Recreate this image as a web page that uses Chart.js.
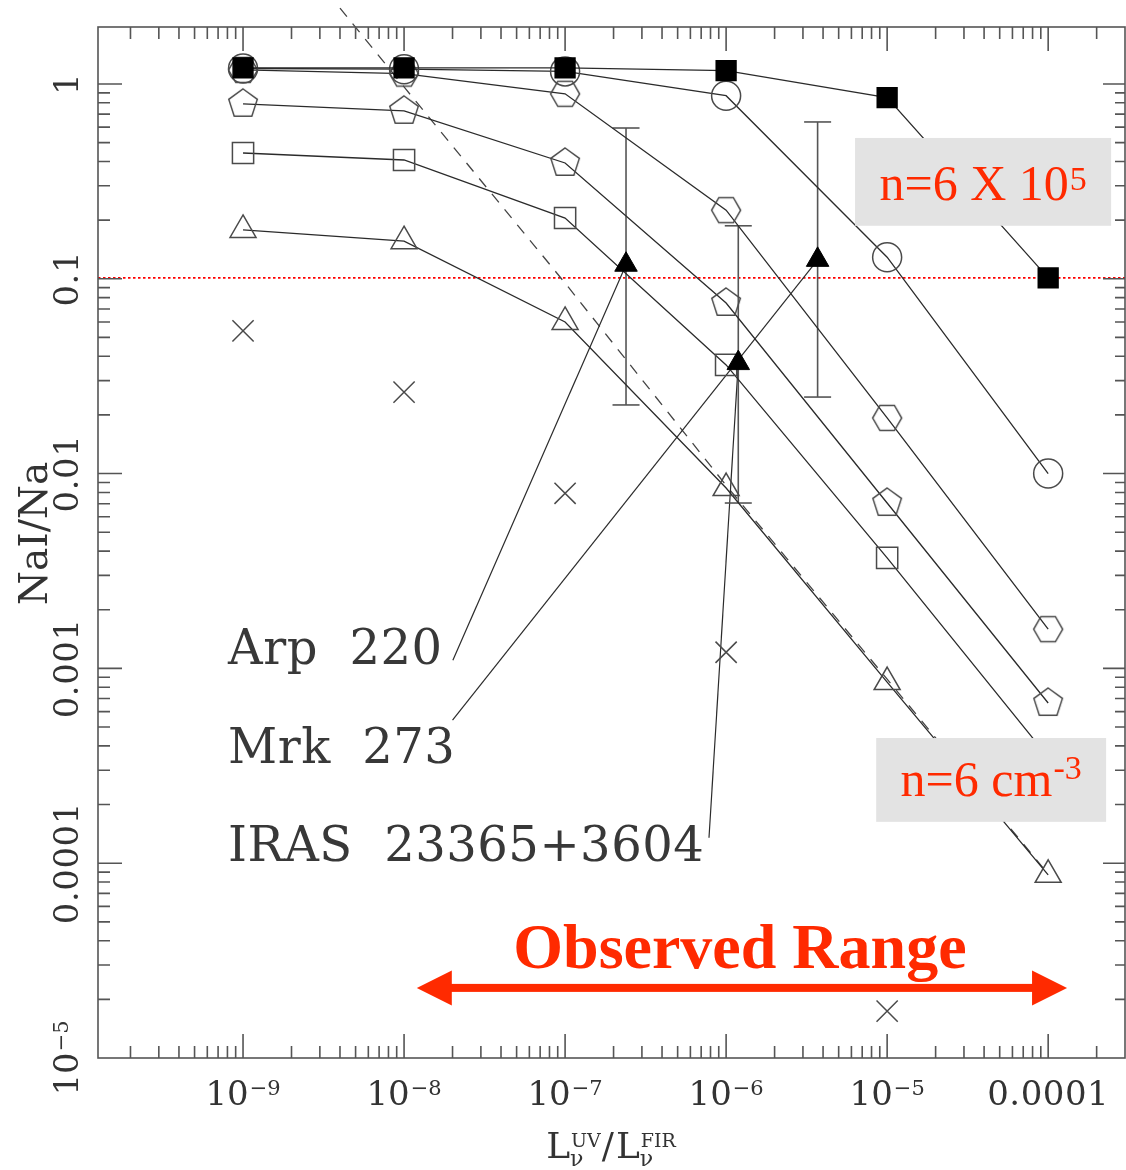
<!DOCTYPE html>
<html>
<head>
<meta charset="utf-8">
<script src="https://cdn.jsdelivr.net/npm/chart.js@4.4.1/dist/chart.umd.min.js"></script>
<style>
  html, body { margin: 0; padding: 0; background: #fff; overflow: hidden; }
  #wrap { width: 1126px; height: 1170px; position: relative; }
  #chart { display: block; }
</style>
</head>
<body>
<div id="wrap"><canvas id="chart"></canvas></div>
<script>
// model grid: L_UV / L_FIR
const X_VALUES = [1e-9, 1e-8, 1e-7, 1e-6, 1e-5, 1e-4];
// NaI/Na for each model curve
const FILLED_SQ = [1.21, 1.21, 1.21, 1.17, 0.85, 0.101];
const CIRCLE    = [1.20, 1.19, 1.16, 0.87, 0.129, 0.0100];
const HEXAGON   = [1.18, 1.13, 0.89, 0.225, 0.0193, 0.00159];
const PENTAGON  = [0.79, 0.727, 0.393, 0.0751, 0.00706, 0.000664];
const OPEN_SQ   = [0.442, 0.407, 0.205, 0.0361, 0.00369, 0.00035];
const TRIANGLE  = [0.178, 0.156, 0.060, 0.00843, 0.00085, 0.0000871];
const CROSS     = [0.054, 0.0262, 0.00792, 0.00121, 0.0000174, null];

// dashed curve
const DASH_X = [4.0e-9, 1e-8, 1e-7, 1e-6, 1e-5, 1e-4];
const DASH_Y = [2.45, 0.965, 0.095, 0.0087, 0.00088, 0.000088];

// observed galaxies (filled triangles with error bars)
const OBS_NAMES = ['Arp  220', 'Mrk  273', 'IRAS  23365+3604'];
const OBS_X  = [2.39e-7, 1.19e-6, 3.7e-6];
const OBS_Y  = [0.118, 0.0369, 0.125];
const OBS_LO = [0.0225, 0.00706, 0.0247];
const OBS_HI = [0.594, 0.187, 0.638];

// leader lines from each name to a triangle
const LEADER_X  = [2.01e-8, 2.0e-8, 7.83e-7];
const LEADER_Y  = [0.0011, 0.000543, 0.000135];
const LEADER_TO = [0, 2, 1];

const THRESHOLD = 0.101;

const X_TICKS = [1e-9, 1e-8, 1e-7, 1e-6, 1e-5, 1e-4];
const X_TICK_LABELS = [['10', '\u22129'], ['10', '\u22128'], ['10', '\u22127'], ['10', '\u22126'], ['10', '\u22125'], ['0.0001', '']];
const Y_TICKS = [1, 0.1, 0.01, 0.001, 0.0001, 1e-5];
const Y_TICK_LABELS = [['1', ''], ['0.1', ''], ['0.01', ''], ['0.001', ''], ['0.0001', ''], ['10', '\u22125']];

const X_MIN = 1.257e-10, X_MAX = 3.0e-4;
const Y_MIN = 1e-5, Y_MAX = 1.96;

// annotation anchors, in data units
const NAME_X = 8.07e-10;
const NAME_BASE_Y = [1.05e-3, 3.27e-4, 1.03e-4];
const BOX_HI = { x0: 6.32e-6, x1: 2.46e-4, y0: 0.528, y1: 0.187 };
const BOX_LO = { x0: 8.55e-6, x1: 2.29e-4, y0: 4.39e-4, y1: 1.63e-4 };
const RANGE = { x0: 1.2e-8, x1: 1.31e-4, y: 2.29e-5 };

const LINE = '#2b2b2b';
const MARK = '#4a4a4a';
const FRAME = '#555';
const TEXT = '#333';
const RED = '#ff2a00';
const SERIF = '"DejaVu Serif", serif';
const TIMES = '"Liberation Serif", "Times New Roman", serif';

function polyMarker(sides, r, rot) {
  const s = Math.ceil(2 * r + 6) + (Math.ceil(2 * r + 6) % 2);
  const c = document.createElement('canvas');
  c.width = c.height = s;
  const g = c.getContext('2d');
  g.strokeStyle = MARK;
  g.lineWidth = 1.5;
  g.beginPath();
  for (let i = 0; i < sides; i++) {
    const a = rot + i * 2 * Math.PI / sides;
    const px = s / 2 + r * Math.cos(a), py = s / 2 + r * Math.sin(a);
    if (i) g.lineTo(px, py); else g.moveTo(px, py);
  }
  g.closePath();
  g.stroke();
  return c;
}
const HEX_IMG = polyMarker(6, 14.5, 0);
const PENT_IMG = polyMarker(5, 15, -Math.PI / 2);

const xy = ys => X_VALUES.map((x, i) => ({ x, y: ys[i] }));

function model(label, ys, style, r, fill) {
  return {
    label, data: xy(ys), showLine: true,
    borderColor: LINE, borderWidth: 1.3,
    pointStyle: style, pointRadius: r,
    pointBorderColor: fill ? '#000' : MARK, pointBorderWidth: 1.5,
    pointBackgroundColor: fill || 'rgba(0,0,0,0)'
  };
}

const datasets = [
  {
    label: 'observed', data: OBS_X.map((x, i) => ({ x, y: OBS_Y[i] })), showLine: false,
    pointStyle: 'triangle', pointRadius: 13, pointBackgroundColor: '#000', pointBorderColor: '#000', pointBorderWidth: 1
  },
  model('filled square', FILLED_SQ, 'rect', 14, '#000'),
  model('circle', CIRCLE, 'circle', 14.5),
  model('hexagon', HEXAGON, HEX_IMG, 15),
  model('pentagon', PENTAGON, PENT_IMG, 15),
  model('square', OPEN_SQ, 'rect', 15),
  model('triangle', TRIANGLE, 'triangle', 15),
  {
    label: 'cross', data: xy(CROSS), showLine: false,
    pointStyle: 'crossRot', pointRadius: 15, pointBorderColor: MARK, pointBorderWidth: 1.5
  },
  ...OBS_X.map((x, i) => ({
    label: 'err ' + i, data: [{ x, y: OBS_LO[i] }, { x, y: OBS_HI[i] }], showLine: true,
    borderColor: '#555', borderWidth: 1.6,
    pointStyle: 'line', pointRadius: 13.5, pointBorderColor: '#555', pointBorderWidth: 1.6
  })),
  ...LEADER_X.map((x, i) => ({
    label: 'leader ' + i,
    data: [{ x, y: LEADER_Y[i] }, { x: OBS_X[LEADER_TO[i]], y: OBS_Y[LEADER_TO[i]] }],
    showLine: true, borderColor: LINE, borderWidth: 1.2, pointRadius: 0
  })),
  {
    label: 'dashed', data: DASH_X.map((x, i) => ({ x, y: DASH_Y[i] })), showLine: true,
    borderColor: '#444', borderWidth: 1.3, borderDash: [11, 9], pointRadius: 0, clip: false
  },
  {
    label: 'threshold', data: [{ x: X_MIN, y: THRESHOLD }, { x: X_MAX, y: THRESHOLD }], showLine: true,
    borderColor: '#f00', borderWidth: 1.8, borderDash: [2.5, 2.5], pointRadius: 0
  }
];

function supText(ctx, main, sup, cx, base, mainFont, supFont, rise) {
  ctx.font = mainFont;
  const w1 = ctx.measureText(main).width;
  ctx.font = supFont;
  const w2 = sup ? ctx.measureText(sup).width + 1 : 0;
  const x = cx - (w1 + w2) / 2;
  ctx.textAlign = 'left';
  ctx.textBaseline = 'alphabetic';
  ctx.font = mainFont;
  ctx.fillText(main, x, base);
  if (sup) {
    ctx.font = supFont;
    ctx.fillText(sup, x + w1 + 1, base - rise);
  }
}

function minorList(eFrom, eTo, min, max) {
  const out = [];
  for (let e = eFrom; e <= eTo; e++) {
    for (let k = 1; k <= 9; k++) {
      const v = k * Math.pow(10, e);
      if (v > min * 1.001 && v < max * 0.999) out.push({ v, major: k === 1 });
    }
  }
  return out;
}

const figurePlugin = {
  id: 'figure',
  afterDatasetsDraw(chart) {
    const { ctx, chartArea: a } = chart;
    const sx = chart.scales.x, sy = chart.scales.y;
    const X = v => sx.getPixelForValue(v), Y = v => sy.getPixelForValue(v);
    ctx.save();

    // frame and inward ticks
    ctx.strokeStyle = FRAME;
    ctx.lineWidth = 1.6;
    ctx.strokeRect(a.left, a.top, a.right - a.left, a.bottom - a.top);
    ctx.beginPath();
    minorList(-10, -4, X_MIN, X_MAX).forEach(t => {
      const p = X(t.v), l = t.major ? 24 : 12;
      ctx.moveTo(p, a.bottom); ctx.lineTo(p, a.bottom - l);
      ctx.moveTo(p, a.top); ctx.lineTo(p, a.top + l);
    });
    minorList(-5, 0, Y_MIN, Y_MAX * 1.01).forEach(t => {
      const p = Y(t.v), l = t.major ? 24 : 12;
      ctx.moveTo(a.left, p); ctx.lineTo(a.left + l, p);
      ctx.moveTo(a.right, p); ctx.lineTo(a.right - (t.major ? 22 : 10), p);
    });
    ctx.stroke();

    // tick labels
    ctx.fillStyle = TEXT;
    X_TICKS.forEach((v, i) => {
      ctx.letterSpacing = X_TICK_LABELS[i][1] ? '0px' : '0.5px';
      supText(ctx, X_TICK_LABELS[i][0], X_TICK_LABELS[i][1], X(v), a.bottom + 47,
        `34px ${SERIF}`, `21px ${SERIF}`, 10);
    });
    Y_TICKS.forEach((v, i) => {
      ctx.save();
      ctx.translate(a.left - 20, Y(v));
      ctx.rotate(-Math.PI / 2);
      ctx.letterSpacing = Y_TICK_LABELS[i][1] ? '0px' : '0.5px';
      supText(ctx, Y_TICK_LABELS[i][0], Y_TICK_LABELS[i][1], 0, 0,
        `34px ${SERIF}`, `21px ${SERIF}`, 10);
      ctx.restore();
    });
    ctx.letterSpacing = '0px';

    // y title
    ctx.save();
    ctx.translate(a.left - 51, (a.top + a.bottom) / 2 - 9);
    ctx.rotate(-Math.PI / 2);
    ctx.font = `39px ${SERIF}`;
    ctx.textAlign = 'center';
    ctx.textBaseline = 'alphabetic';
    ctx.fillText('NaI/Na', 0, 0);
    ctx.restore();

    // x title: L_nu^UV / L_nu^FIR
    const parts = [['L', 'UV', '\u03bd'], ['/', '', ''], ['L', 'FIR', '\u03bd']];
    const big = `36px ${SERIF}`, small = `19px ${SERIF}`, nu = `22px ${SERIF}`;
    const widths = parts.map(([m, sp, sb]) => {
      ctx.font = big; const w = ctx.measureText(m).width;
      ctx.font = small; const ws = ctx.measureText(sp).width;
      ctx.font = nu; const wb = ctx.measureText(sb).width;
      return [w, Math.max(ws, wb)];
    });
    const total = widths.reduce((s, [w, e]) => s + w + e + 2, 0);
    let cx = (a.left + a.right) / 2 - total / 2;
    const base = a.bottom + 100;
    ctx.textAlign = 'left';
    parts.forEach(([m, sp, sb], i) => {
      ctx.font = big; ctx.fillText(m, cx, base);
      cx += widths[i][0] + 1;
      ctx.font = small; ctx.fillText(sp, cx, base - 11);
      ctx.font = nu; ctx.fillText(sb, cx - 1, base + 8);
      cx += widths[i][1] + 1;
    });

    // galaxy names
    ctx.font = `48px ${SERIF}`;
    ctx.fillStyle = '#383838';
    ctx.letterSpacing = '0.5px';
    OBS_NAMES.forEach((n, i) => ctx.fillText(n, X(NAME_X), Y(NAME_BASE_Y[i])));
    ctx.letterSpacing = '0px';

    // density boxes
    const box = (b, main, sup, rise) => {
      const x0 = X(b.x0), x1 = X(b.x1), y0 = Y(b.y0), y1 = Y(b.y1);
      ctx.fillStyle = '#e3e3e3';
      ctx.fillRect(x0, y0, x1 - x0, y1 - y0);
      ctx.fillStyle = RED;
      supText(ctx, main, sup, (x0 + x1) / 2, y1 - 26, `50px ${TIMES}`, `34px ${TIMES}`, rise);
    };
    box(BOX_HI, 'n=6 X 10', '5', 10);
    box(BOX_LO, 'n=6 cm', '-3', 17);

    // observed range arrow
    const ax0 = X(RANGE.x0), ax1 = X(RANGE.x1), ay = Y(RANGE.y);
    const hl = 35, hh = 17.5, th = 4;
    ctx.fillStyle = RED;
    ctx.fillRect(ax0 + hl - 2, ay - th, ax1 - ax0 - 2 * hl + 4, 2 * th);
    ctx.beginPath();
    ctx.moveTo(ax0, ay); ctx.lineTo(ax0 + hl, ay - hh); ctx.lineTo(ax0 + hl, ay + hh); ctx.closePath();
    ctx.moveTo(ax1, ay); ctx.lineTo(ax1 - hl, ay - hh); ctx.lineTo(ax1 - hl, ay + hh); ctx.closePath();
    ctx.fill();
    ctx.font = `bold 64px ${TIMES}`;
    ctx.textAlign = 'center';
    ctx.fillText('Observed Range', (ax0 + ax1) / 2 - 2, ay - 20);

    ctx.restore();
  }
};

new Chart(document.getElementById('chart'), {
  type: 'scatter',
  data: { datasets },
  options: {
    responsive: true,
    maintainAspectRatio: false,
    animation: false,
    events: [],
    layout: { autoPadding: false, padding: { left: 98, top: 27, right: 1, bottom: 112 } },
    plugins: { legend: { display: false }, tooltip: { enabled: false } },
    scales: {
      x: { type: 'logarithmic', min: X_MIN, max: X_MAX, bounds: 'data', display: false },
      y: { type: 'logarithmic', min: Y_MIN, max: Y_MAX, bounds: 'data', display: false }
    }
  },
  plugins: [figurePlugin]
});
</script>
</body>
</html>
